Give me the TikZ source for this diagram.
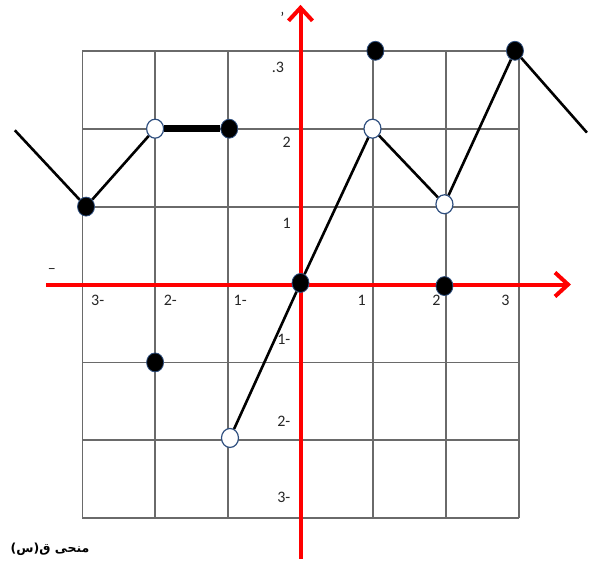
\documentclass[tikz,border=0pt]{standalone}
\usepackage{fontspec}
\setmainfont{Carlito}
\newfontfamily\arabicfont[Script=Arabic]{DejaVu Sans Bold}
\TeXXeTstate=1
\usetikzlibrary{arrows.meta,shapes.geometric}
\definecolor{gridgray}{HTML}{6A6A6A}
\definecolor{dotedge}{HTML}{2F4F7F}
\tikzset{
  gridline/.style={draw=gridgray,line width=1.8pt},
  axisline/.style={draw=red,line width=4pt,-{Straight Barb[length=13pt,width=24pt,line width=4pt]}},
  curve/.style={draw=black,line width=2.6pt},
  thickseg/.style={draw=black,line width=7pt},
  fulldot/.style={ellipse,fill=black,draw=dotedge,line width=0.8pt,minimum width=17pt,minimum height=19pt,inner sep=0pt},
  opendot/.style={ellipse,fill=white,draw=dotedge,line width=1.2pt,minimum width=17pt,minimum height=19pt,inner sep=0pt},
  numlabel/.style={font=\fontsize{16}{18}\selectfont,text=black!85,inner sep=0pt},
}
\begin{document}
\begin{tikzpicture}[x=1pt,y=1pt]
\fill[white] (0,0) rectangle (593,563);
\useasboundingbox (0,0) rectangle (593,563);
\begin{scope}[shift={(300.5pt,278.5pt)},x=72.7pt,y=77.9pt]
  % grid
  \draw[gridline] (-3,-3) grid[xstep=1,ystep=1] (3,3);
  % axes
  \coordinate (xs) at (-3.50,0);
  \coordinate (xe) at (3.72,0);
  \coordinate (ys) at (0,-3.52);
  \coordinate (ye) at (0,3.59);
  \draw[axisline] (xs) -- (xe);
  \draw[axisline] (ys) -- (ye);
  % axis labels
  \node[numlabel] (xm3) at (-2.79,-0.2) {3-};
  \node[numlabel] (xm2) at (-1.79,-0.2) {2-};
  \node[numlabel] (xm1) at (-0.83,-0.2) {1-};
  \node[numlabel] (xp1) at (0.84,-0.2) {1};
  \node[numlabel] (xp2) at (1.87,-0.2) {2};
  \node[numlabel] (xp3) at (2.82,-0.2) {3};
  \node[numlabel] (yp3) at (-0.31,2.79) {.3};
  \node[numlabel] (yp2) at (-0.19,1.82) {2};
  \node[numlabel] (yp1) at (-0.19,0.79) {1};
  \node[numlabel] (ym1) at (-0.23,-0.71) {1-};
  \node[numlabel] (ym2) at (-0.23,-1.76) {2-};
  \node[numlabel] (ym3) at (-0.23,-2.73) {3-};
  \node[numlabel] (ytop) at (-0.25,3.42) {'};
  \node[numlabel] (xleft) at (-3.42,0.17) {–};
  % curve end points
  \coordinate (lend) at (-3.93,1.98);
  \coordinate (rend) at (3.94,1.95);
  % dots
  \node[fulldot] (a) at (-2.95,1) {};
  \node[opendot] (b) at (-2,2) {};
  \node[fulldot] (c) at (-0.98,2) {};
  \node[fulldot] (d) at (-2,-1) {};
  \node[opendot] (e) at (-0.97,-1.97) {};
  \node[fulldot] (f) at (0,0.02) {};
  \node[opendot] (g) at (0.99,2) {};
  \node[fulldot] (h) at (1.03,3) {};
  \node[opendot] (i) at (1.98,1.03) {};
  \node[fulldot] (j) at (1.98,-0.02) {};
  \node[fulldot] (k) at (2.95,3) {};
  % connectors
  \draw[curve] (lend) -- (a);
  \draw[curve] (a) -- (b);
  \draw[thickseg] (b) -- (c);
  \draw[curve] (e) -- (f);
  \draw[curve] (f) -- (g);
  \draw[curve] (g) -- (i);
  \draw[curve] (i) -- (k);
  \draw[curve] (k) -- (rend);
\end{scope}
\node[font=\arabicfont\fontsize{12.5}{14}\selectfont,inner sep=0pt] (title) at (50,14) {\beginR منحى ق(س)\endR};
\end{tikzpicture}
\end{document}
